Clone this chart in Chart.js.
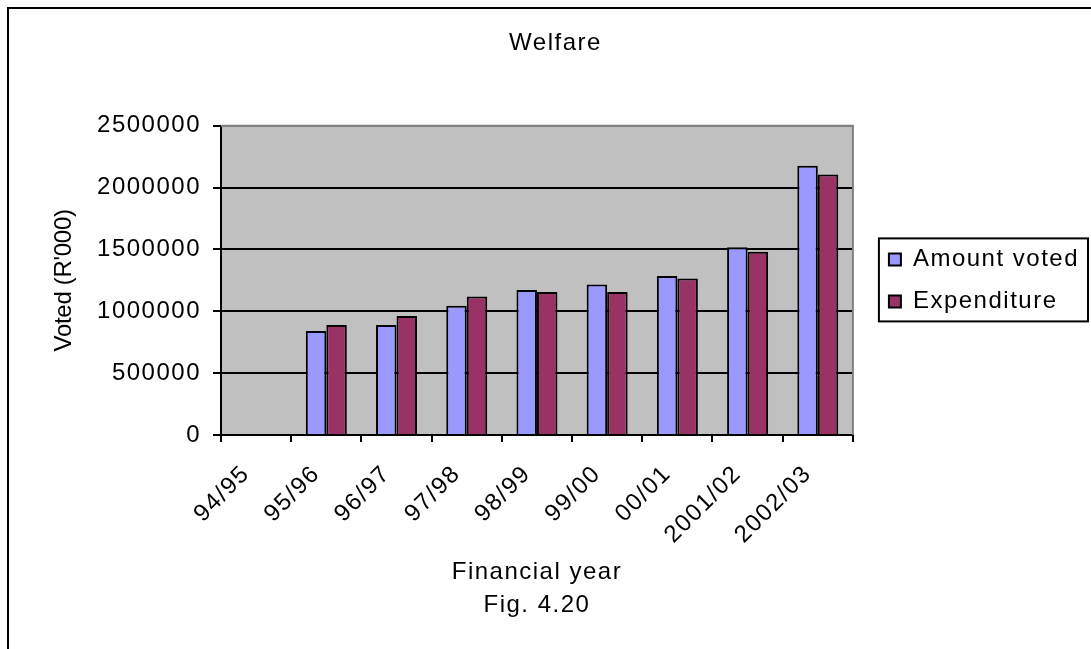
<!DOCTYPE html>
<html>
<head>
<meta charset="utf-8">
<title>Welfare</title>
<script src="https://cdn.jsdelivr.net/npm/chart.js@4/dist/chart.umd.min.js"></script>
<style>
  html, body { margin: 0; padding: 0; background: #ffffff; }
  canvas { display: block; }
</style>
</head>
<body>
<canvas id="chart" width="1091" height="649"></canvas>
<script>
// Financial years on the category axis
const years = ['94/95', '95/96', '96/97', '97/98', '98/99', '99/00', '00/01', '2001/02', '2002/03'];
// Values in R'000 (no figures for 94/95)
const amountVoted = [null, 841000, 890000, 1046000, 1173000, 1216000, 1286000, 1518000, 2176000];
const expenditure = [null, 890000, 963000, 1119000, 1157000, 1157000, 1265000, 1481000, 2106000];
// Value axis range and step
const yMin = 0;
const yMax = 2500000;
const yStep = 500000;

const FONT = "'Liberation Sans', Arial, sans-serif";
const SIZE = 24;
const SPACING = '1.5px';

// Slightly wider letter spacing for canvas text
const spacingPlugin = {
  id: 'spacing',
  beforeUpdate(chart) { chart.ctx.letterSpacing = SPACING; },
  beforeDraw(chart) {
    chart.ctx.letterSpacing = SPACING;
    // the vertical axis title is set tighter
    const s = chart.scales.y;
    if (s && !s._tightTitle) {
      const orig = s.drawTitle;
      s.drawTitle = function () {
        const prev = this.ctx.letterSpacing;
        this.ctx.letterSpacing = '-0.3px';
        orig.call(this);
        this.ctx.letterSpacing = prev;
      };
      s._tightTitle = true;
    }
  }
};

// Page background, grey plot area, outer frame and legend frame
const framePlugin = {
  id: 'frame',
  afterLayout(chart) {
    const lg = chart.legend;
    lg.left += 18; lg.right += 18;
    const tb = chart.titleBlock;
    tb.left += 10; tb.right += 10;
  },
  beforeDraw(chart) {
    const { ctx, chartArea: a } = chart;
    ctx.save();
    ctx.fillStyle = '#ffffff';
    ctx.fillRect(0, 0, chart.width, chart.height);
    ctx.fillStyle = '#c0c0c0';
    ctx.fillRect(a.left, a.top, a.right - a.left, a.bottom - a.top);
    ctx.restore();
  },
  beforeDatasetsDraw(chart) {
    const { ctx, chartArea: a } = chart;
    ctx.save();
    ctx.strokeStyle = '#808080';
    ctx.lineWidth = 2;
    ctx.beginPath();
    ctx.moveTo(a.left, a.top);
    ctx.lineTo(a.right, a.top);
    ctx.lineTo(a.right, a.bottom);
    ctx.stroke();
    ctx.restore();
  },
  afterDraw(chart) {
    const { ctx } = chart;
    ctx.save();
    ctx.fillStyle = '#000000';
    ctx.fillRect(7, 7, chart.width - 7, 2);
    ctx.fillRect(7, 7, 2, chart.height - 7);
    const hb = chart.legend.legendHitBoxes;
    if (hb && hb.length) {
      const l = hb[0].left - 10;
      const t = hb[0].top - 9;
      const last = hb[hb.length - 1];
      const b = last.top + last.height + 8;
      ctx.strokeStyle = '#000000';
      ctx.lineWidth = 2;
      ctx.strokeRect(l, t, 1088 - l, b - t);
    }
    ctx.restore();
  }
};

new Chart(document.getElementById('chart'), {
  type: 'bar',
  data: {
    labels: years,
    datasets: [
      {
        label: 'Amount voted',
        data: amountVoted,
        backgroundColor: '#9999ff',
        borderColor: '#000000',
        borderWidth: 2
      },
      {
        label: 'Expenditure',
        data: expenditure,
        backgroundColor: '#993366',
        borderColor: '#000000',
        borderWidth: 2
      }
    ]
  },
  options: {
    responsive: false,
    animation: false,
    devicePixelRatio: 1,
    layout: { padding: { left: 20, right: 20, top: 0, bottom: 0 } },
    datasets: {
      bar: { categoryPercentage: 0.584, barPercentage: 1.0 }
    },
    plugins: {
      tooltip: { enabled: false },
      title: {
        display: true,
        text: 'Welfare',
        color: '#000000',
        font: { family: FONT, size: SIZE, weight: 'normal', lineHeight: 1.2 },
        padding: { top: 29, bottom: 68 }
      },
      legend: {
        display: true,
        position: 'right',
        align: 'center',
        fullSize: false,
        labels: {
          color: '#000000',
          font: { family: FONT, size: SIZE },
          boxWidth: 12,
          boxHeight: 12,
          padding: 18
        }
      }
    },
    scales: {
      x: {
        offset: true,
        grid: {
          offset: true,
          drawOnChartArea: false,
          drawTicks: true,
          tickLength: 7,
          tickColor: '#000000',
          tickWidth: 2,
          lineWidth: 2,
          color: '#000000'
        },
        border: { display: true, color: '#000000', width: 2 },
        ticks: {
          color: '#000000',
          font: { family: FONT, size: SIZE },
          minRotation: 45,
          maxRotation: 45,
          autoSkip: false,
          padding: 18,
          labelOffset: -10
        },
        title: {
          display: true,
          text: ['Financial year', 'Fig. 4.20'],
          color: '#000000',
          font: { family: FONT, size: SIZE, lineHeight: 1.375 },
          padding: { top: 0, bottom: 27 }
        },
        afterFit(scale) { scale.height = 214; }
      },
      y: {
        min: yMin,
        max: yMax,
        ticks: {
          stepSize: yStep,
          color: '#000000',
          font: { family: FONT, size: SIZE },
          padding: 12,
          callback: (v) => String(v)
        },
        grid: {
          drawOnChartArea: true,
          drawTicks: true,
          tickLength: 8,
          tickColor: '#000000',
          tickWidth: 2,
          lineWidth: 2,
          color: (c) => (c.tick && c.tick.value === yMax) ? '#808080' : '#000000'
        },
        border: { display: true, color: '#000000', width: 2 },
        title: {
          display: true,
          text: "Voted (R'000)",
          color: '#000000',
          font: { family: FONT, size: SIZE, lineHeight: 1.2 },
          padding: { top: 29.6, bottom: 0 }
        },
        afterFit(scale) { scale.width = 201; }
      }
    }
  },
  plugins: [spacingPlugin, framePlugin]
});
</script>
</body>
</html>
